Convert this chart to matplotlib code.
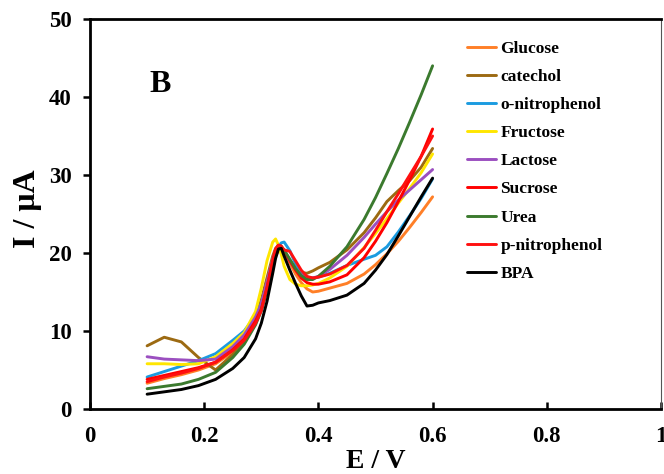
import matplotlib
matplotlib.use("Agg")
import matplotlib.pyplot as plt

plt.rcParams['font.family'] = ['Liberation Serif', 'DejaVu Serif']
plt.rcParams['font.weight'] = 'bold'

E = [0.10, 0.13, 0.16, 0.19, 0.22, 0.25, 0.27, 0.29, 0.30, 0.31, 0.32, 0.325, 0.33, 0.335,
     0.34, 0.35, 0.36, 0.37, 0.38, 0.39, 0.40, 0.42, 0.45, 0.48, 0.50, 0.52, 0.54, 0.56, 0.58, 0.60]

glucose = [3.3, 3.9, 4.4, 5.0, 5.8, 7.3, 8.8, 11.2, 12.8, 15.3, 18.3, 19.6, 20.3, 20.4,
           20.0, 18.7, 17.3, 16.2, 15.4, 15.0, 15.1, 15.5, 16.1, 17.3, 18.5, 19.9, 21.5, 23.3, 25.2, 27.2]
catechol = [8.1, 9.2, 8.6, 6.6, 5.0, 7.0, 8.8, 11.8, 14.0, 16.8, 19.6, 20.6, 21.0, 20.8,
            20.3, 19.0, 18.0, 17.5, 17.4, 17.7, 18.1, 18.8, 20.4, 22.6, 24.5, 26.6, 28.0, 29.3, 31.0, 33.4]
o_nitrophenol = [4.1, 4.8, 5.5, 6.2, 7.1, 8.8, 10.0, 12.0, 13.5, 15.8, 18.5, 19.8, 20.8, 21.3,
                 21.4, 20.3, 18.6, 17.5, 16.9, 16.8, 16.9, 17.4, 18.4, 19.2, 19.7, 20.8, 22.7, 24.8, 27.0, 29.5]
fructose = [5.8, 5.8, 5.7, 5.8, 6.7, 8.4, 9.8, 12.5, 15.5, 19.0, 21.4, 21.8, 21.0, 19.8,
            18.3, 16.6, 16.0, 15.8, 15.8, 15.9, 16.1, 16.8, 18.3, 20.7, 22.5, 24.4, 26.4, 28.3, 30.3, 32.7]
lactose = [6.7, 6.4, 6.3, 6.2, 6.4, 8.0, 9.5, 11.8, 13.5, 16.3, 19.2, 20.3, 20.8, 20.7,
           20.2, 19.0, 17.9, 17.2, 16.8, 16.8, 17.0, 17.9, 19.7, 22.0, 23.7, 25.3, 26.8, 28.1, 29.4, 30.7]
sucrose = [3.8, 4.3, 4.8, 5.3, 6.0, 7.6, 9.0, 11.3, 12.8, 15.6, 19.0, 20.4, 21.0, 20.9,
           20.3, 19.0, 17.8, 16.8, 16.2, 16.0, 16.0, 16.3, 17.2, 19.4, 21.5, 23.9, 26.6, 29.4, 32.4, 35.9]
urea = [2.6, 2.9, 3.2, 3.8, 4.7, 6.6, 8.3, 10.8, 12.6, 15.3, 18.5, 19.9, 20.7, 20.8,
        20.4, 19.2, 18.0, 17.1, 16.6, 16.6, 17.0, 18.3, 20.8, 24.3, 27.1, 30.2, 33.4, 36.8, 40.3, 44.0]
p_nitrophenol = [3.5, 4.1, 4.6, 5.2, 6.0, 7.5, 8.8, 11.0, 12.6, 15.5, 19.0, 20.5, 21.0, 20.8,
                 20.4, 20.2, 19.0, 17.8, 17.0, 16.8, 16.9, 17.3, 18.4, 20.6, 22.9, 25.3, 27.6, 30.0, 32.4, 35.0]
bpa = [1.9, 2.2, 2.5, 3.0, 3.8, 5.2, 6.6, 9.0, 11.0, 13.8, 17.4, 19.3, 20.5, 20.6,
       19.6, 17.8, 16.1, 14.5, 13.2, 13.3, 13.6, 13.9, 14.6, 16.1, 17.8, 19.8, 22.2, 24.7, 27.2, 29.6]

labels = ["Glucose", "catechol", "o-nitrophenol", "Fructose", "Lactose",
          "Sucrose", "Urea", "p-nitrophenol", "BPA"]
series = [glucose, catechol, o_nitrophenol, fructose, lactose, sucrose, urea, p_nitrophenol, bpa]
colors = ["#FF7F27", "#9C6A12", "#1B9BE0", "#FFE600", "#9B4FC0",
          "#FF0000", "#3B7A2E", "#FF1010", "#000000"]

x_ticks = [0, 0.2, 0.4, 0.6, 0.8, 1.0]
x_ticklabels = ["0", "0.2", "0.4", "0.6", "0.8", "1"]
y_ticks = [0, 10, 20, 30, 40, 50]

W, H = 664, 474
fig = plt.figure(figsize=(W / 100, H / 100), dpi=100)
ax = fig.add_axes([90 / W, 1 - 409 / H, (661 - 90) / W, (409 - 19) / H])

for y, lab, c in zip(series, labels, colors):
    ax.plot(E, y, color=c, lw=2.1, label=lab, solid_joinstyle='round', solid_capstyle='round')

ax.set_xlim(0, 1)
ax.set_ylim(0, 50)
ax.set_xticks(x_ticks)
ax.set_xticklabels(x_ticklabels)
ax.set_yticks(y_ticks)
ax.tick_params(axis='x', direction='in', length=5, width=1.8, labelsize=16.5, pad=12)
ax.tick_params(axis='y', direction='out', length=5, width=1.8, labelsize=16.5, pad=8)
for lab in ax.get_xticklabels() + ax.get_yticklabels():
    lab.set_fontweight('bold')

for s in ['left', 'bottom', 'top']:
    ax.spines[s].set_linewidth(2.0)
    ax.spines[s].set_color('black')
ax.spines['right'].set_linewidth(0.8)
ax.spines['right'].set_color('#555555')

ax.text(0.123, 41.6, "B", fontsize=23, fontweight='bold', ha='center', va='center')

fig.text(28 / W, 1 - 209 / H, "I / μA", rotation=90, fontsize=23, fontweight='bold',
         ha='center', va='center')
fig.text(376 / W, 1 - 462 / H, "E / V", fontsize=20, fontweight='bold', ha='center', va='center')

leg = ax.legend(loc='upper left', bbox_to_anchor=(458 / W, 1 - 32 / H),
                bbox_transform=fig.transFigure, frameon=False,
                prop={'family': 'Liberation Serif', 'weight': 'bold', 'size': 12.5},
                handlelength=1.7, handletextpad=0.25, labelspacing=0.69, borderpad=0)

fig.savefig("out.png", dpi=100)
